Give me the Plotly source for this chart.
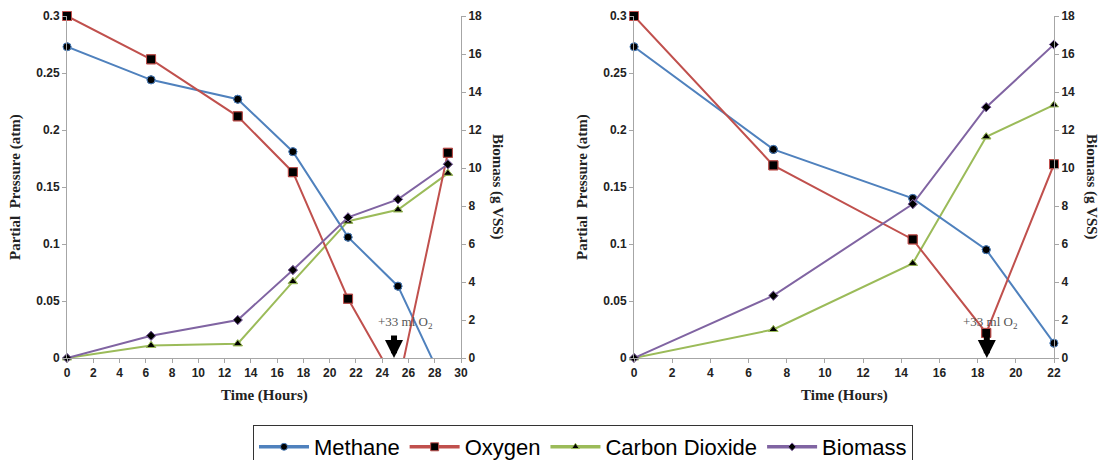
import plotly.graph_objects as go

# ---------------- data: left panel ----------------
t_left = [0, 6.4, 13.0, 17.2, 21.4, 25.2, 29.0]
methane_left = [0.273, 0.244, 0.227, 0.181, 0.106, 0.063, -0.030]
oxygen_left = [0.300, 0.262, 0.212, 0.163, 0.052, -0.025, 0.180]
co2_left = [0.0, 0.011, 0.0125, 0.067, 0.120, 0.130, 0.162]
biomass_left = [0.0, 1.17, 2.0, 4.63, 7.4, 8.35, 10.2]

# ---------------- data: right panel ----------------
t_right = [0, 7.3, 14.6, 18.45, 22.0]
methane_right = [0.273, 0.183, 0.140, 0.095, 0.013]
oxygen_right = [0.300, 0.169, 0.104, 0.022, 0.170]
co2_right = [0.0, 0.025, 0.083, 0.194, 0.222]
biomass_right = [0.0, 3.28, 8.1, 13.2, 16.5]

series_names = ["Methane", "Oxygen", "Carbon Dioxide", "Biomass"]
colors = ["#4F81BD", "#C0504D", "#9BBB59", "#8064A2"]
symbols = ["circle", "square", "triangle-up", "diamond"]
msizes = [8, 9, 8, 7]

o2_time_left = 24.9
o2_time_right = 18.48
o2_label = "+33 ml O<sub>2</sub>"

fig = go.Figure()


def add_series(x, y, i, xa, ya):
    fig.add_trace(go.Scatter(
        x=x, y=y, name=series_names[i], mode="lines+markers",
        xaxis=xa, yaxis=ya, showlegend=False, cliponaxis=True,
        line=dict(color=colors[i], width=2),
        marker=dict(symbol=symbols[i], size=msizes[i], color="black",
                    line=dict(color=colors[i], width=1)),
    ))
    hi = 18 if ya in ("y3", "y4") else 0.3
    px = [a for a, b in zip(x, y) if 0 <= b <= hi]
    py = [b for b in y if 0 <= b <= hi]
    fig.add_trace(go.Scatter(
        x=px, y=py, mode="markers", xaxis=xa, yaxis=ya, showlegend=False,
        cliponaxis=False, hoverinfo="skip",
        marker=dict(symbol=symbols[i], size=msizes[i], color="black",
                    line=dict(color=colors[i], width=1)),
    ))


add_series(t_left, co2_left, 2, "x", "y")
add_series(t_left, biomass_left, 3, "x", "y3")
add_series(t_left, methane_left, 0, "x", "y")
add_series(t_left, oxygen_left, 1, "x", "y")

add_series(t_right, co2_right, 2, "x2", "y2")
add_series(t_right, biomass_right, 3, "x2", "y4")
add_series(t_right, methane_right, 0, "x2", "y2")
add_series(t_right, oxygen_right, 1, "x2", "y2")

# legend-only traces in desired order
for i in range(4):
    fig.add_trace(go.Scatter(
        x=[None], y=[None], name=series_names[i], mode="lines+markers",
        xaxis="x", yaxis="y", showlegend=True,
        line=dict(color=colors[i], width=3.5),
        marker=dict(symbol=symbols[i], size=msizes[i] - 1, color="black",
                    line=dict(color=colors[i], width=1)),
    ))

tickfont = dict(family="Liberation Sans, Arial", size=12, color="#222222", weight="bold")
axis_common = dict(showgrid=False, zeroline=False, showline=True,
                   linecolor="#A6A6A6", linewidth=1, ticks="outside",
                   tickcolor="#A6A6A6", ticklen=4, tickfont=tickfont)

ybot, ytop = (460 - 358) / 460, (460 - 16) / 460
dom_l = [67 / 1105, 461 / 1105]
dom_r = [634 / 1105, 1054 / 1105]

fig.update_layout(
    width=1105, height=460,
    margin=dict(l=0, r=0, t=0, b=0, autoexpand=False),
    paper_bgcolor="white", plot_bgcolor="white",
    xaxis=dict(domain=dom_l, range=[0, 30], dtick=2, anchor="y", **axis_common),
    yaxis=dict(domain=[ybot, ytop], range=[0, 0.3], dtick=0.05, anchor="x", **axis_common),
    yaxis3=dict(overlaying="y", side="right", anchor="x", range=[0, 18], dtick=2, **axis_common),
    xaxis2=dict(domain=dom_r, range=[0, 22], dtick=2, anchor="y2", **axis_common),
    yaxis2=dict(domain=[ybot, ytop], range=[0, 0.3], dtick=0.05, anchor="x2", **axis_common),
    yaxis4=dict(overlaying="y2", side="right", anchor="x2", range=[0, 18], dtick=2, **axis_common),
    legend=dict(orientation="h", x=253 / 1105, y=(460 - 425) / 460,
                xanchor="left", yanchor="top",
                bordercolor="#333333", borderwidth=1,
                font=dict(family="Liberation Sans Narrow, Liberation Sans, Arial", size=22, color="black"),
                itemwidth=50, tracegroupgap=0),
)

serif = dict(family="Liberation Serif, Times New Roman", size=15, color="#222222")
ann = []
# axis titles
for cx in [264, 844]:
    ann.append(dict(text="<b>Time (Hours)</b>", x=cx / 1105, y=(460 - 395) / 460,
                    xref="paper", yref="paper", xanchor="center", yanchor="middle",
                    showarrow=False, font=serif))
for lx in [15, 582]:
    ann.append(dict(text="<b>Partial  Pressure (atm)</b>", x=lx / 1105, y=(460 - 187) / 460,
                    xref="paper", yref="paper", xanchor="center", yanchor="middle",
                    showarrow=False, textangle=-90, font=serif))
for rx in [498, 1092]:
    ann.append(dict(text="<b>Biomass (g VSS)</b>", x=rx / 1105, y=(460 - 187) / 460,
                    xref="paper", yref="paper", xanchor="center", yanchor="middle",
                    showarrow=False, textangle=90, font=serif))
# O2 injection arrows and labels
for xa, ya, t, dx in [("x", "y", o2_time_left, 0.9), ("x2", "y2", o2_time_right, 0.2)]:
    ann.append(dict(x=t, y=0, xref=xa, yref=ya, ax=0, ay=-24, text="",
                    showarrow=True, arrowhead=2, arrowsize=0.6, arrowwidth=6,
                    arrowcolor="black", standoff=0))
    ann.append(dict(x=t + dx, y=0.031, xref=xa, yref=ya, text=o2_label,
                    showarrow=False,
                    font=dict(family="Liberation Serif, Times New Roman", size=13, color="#555555")))
fig.update_layout(annotations=ann)

fig.write_html("out.html")
